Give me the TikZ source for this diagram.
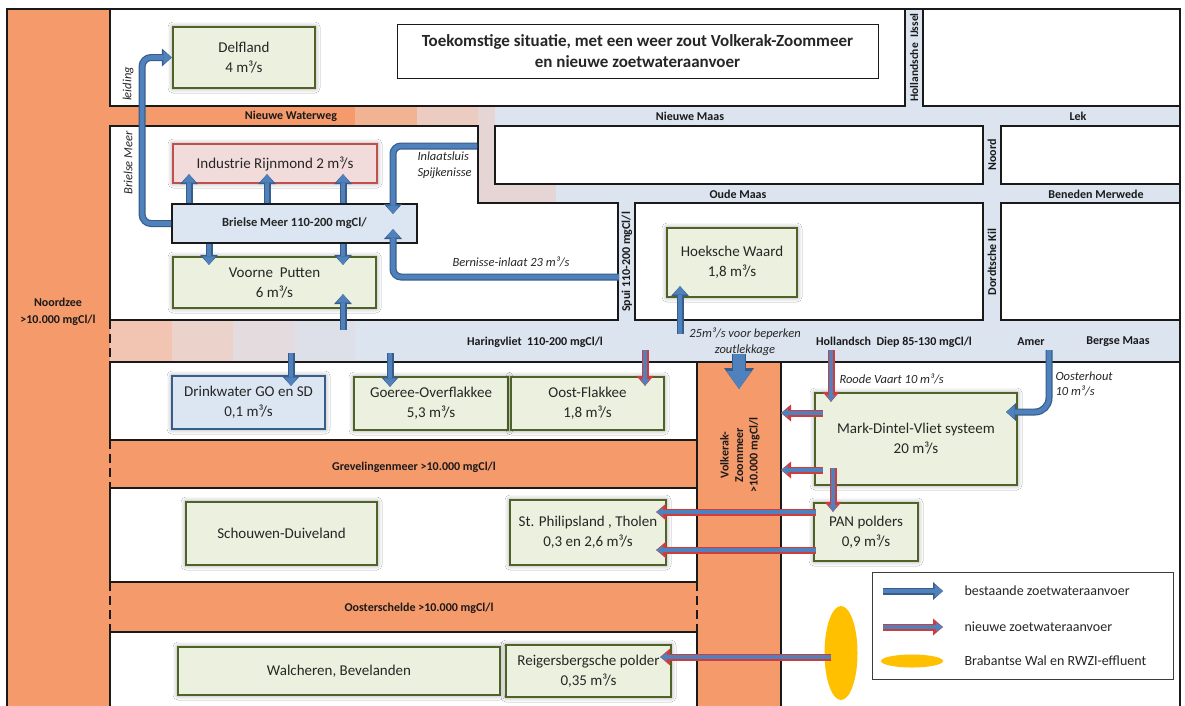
\documentclass[tikz,border=0pt]{standalone}
\usepackage{fontspec}
\setmainfont{Carlito}
\usetikzlibrary{arrows.meta,shapes.geometric,shadows.blur}
\definecolor{Ink}{HTML}{1A1A1A}
\definecolor{Body}{HTML}{262626}
\definecolor{Sea}{HTML}{F59A6B}
\definecolor{Fresh}{HTML}{DBE4EF}
\definecolor{SeaFadeA}{HTML}{F2B393}
\definecolor{SeaFadeB}{HTML}{ECCBC0}
\definecolor{SeaFadeC}{HTML}{E6D5D5}
\definecolor{HvFadeA}{HTML}{F1C5B1}
\definecolor{HvFadeB}{HTML}{EBD3CB}
\definecolor{HvFadeC}{HTML}{E3DBDE}
\definecolor{HvFadeD}{HTML}{DDE0E9}
\definecolor{GreenSoft}{HTML}{EBF1DE}
\definecolor{GreenEdge}{HTML}{4F6228}
\definecolor{RedSoft}{HTML}{F2DCDB}
\definecolor{RedEdge}{HTML}{C0504D}
\definecolor{BlueSoft}{HTML}{DCE6F2}
\definecolor{BlueEdge}{HTML}{385D8A}
\definecolor{FlowBlue}{HTML}{4F81BD}
\definecolor{FlowRed}{HTML}{D23B3B}
\definecolor{Effluent}{HTML}{FFC000}
\newcommand{\fsz}[2]{\fontsize{#1}{#2}\selectfont}

\begin{document}
\begin{tikzpicture}[x=1pt,y=-1pt,every node/.style={text=Body},
  coast/.style={draw=Ink,line width=1.4pt},
  island/.style={coast,fill=white},
  gap/.style={coast,dash pattern=on 9pt off 5pt},
  river/.style={font=\bfseries\fsz{12}{16},text=Ink},
  note/.style={font=\itshape\fsz{12.5}{15.5},text=Body},
  dims/.style 2 args={minimum width=#1pt,minimum height=#2pt},
  area/.style={draw=GreenEdge,fill=GreenSoft,line width=2.2pt,align=center,
    font=\fsz{15}{20},inner sep=1pt,
    blur shadow={shadow xshift=0pt,shadow yshift=0pt,shadow blur radius=5pt,shadow opacity=45}},
  lake/.style={draw=Ink,fill=BlueSoft,line width=1.8pt,font=\bfseries\fsz{12.5}{14}},
  flow/.style={draw=BlueEdge,line width=7pt,-{Triangle[width=18pt,length=10pt,line width=0pt]},
    postaction={draw=FlowBlue,line width=4.6pt,-{Triangle[width=13pt,length=8.5pt,line width=0pt]}}},
  newflow/.style={draw=FlowRed,line width=7pt,-{Triangle[width=17pt,length=10pt,line width=0pt]},
    postaction={draw=FlowBlue,line width=3.4pt,-{Triangle[width=9pt,length=7pt,line width=0pt]}}},
  bigflow/.style={draw=BlueEdge,line width=14pt,-{Triangle[width=30pt,length=21pt,line width=0pt]},
    postaction={draw=FlowBlue,line width=12pt,-{Triangle[width=25pt,length=18pt,line width=0pt]}}}]
  \useasboundingbox (0,0) rectangle (1185,705);
  \fill[white] (0,0) rectangle (1185,705);
  \fill[Fresh] (110,9) rectangle (1180,712);

  \fill[Sea] (110,106) rectangle (355,126);
  \fill[SeaFadeA] (355,106) rectangle (417,126);
  \fill[SeaFadeB] (417,106) rectangle (478,126);
  \fill[SeaFadeC] (478,106) rectangle (495,203);
  \fill[SeaFadeC] (478,184) rectangle (556,203);
  \fill[HvFadeA] (110,320) rectangle (172,362);
  \fill[HvFadeB] (172,320) rectangle (233,362);
  \fill[HvFadeC] (233,320) rectangle (295,362);
  \fill[HvFadeD] (295,320) rectangle (355,362);

  \fill[Sea] (7,9) rectangle (110,712);
  \fill[Sea] (110,440) rectangle (697,488);
  \fill[Sea] (110,582) rectangle (697,632);
  \fill[Sea] (697,362) rectangle (781,712);

  \draw[island] (110,9) rectangle (905,106);
  \draw[island] (923,9) rectangle (1180,106);
  \draw[island] (110,126) -- (478,126) -- (478,203) -- (618,203) -- (618,320) -- (110,320) -- cycle;
  \draw[island] (495,126) rectangle (983,184);
  \draw[island] (1001,126) rectangle (1180,184);
  \draw[island] (635,203) rectangle (983,320);
  \draw[island] (1001,203) rectangle (1180,320);
  \draw[island] (110,362) rectangle (697,440);
  \draw[island] (110,488) rectangle (697,582);
  \draw[island] (110,632) rectangle (697,712);
  \draw[island] (781,362) rectangle (1180,712);
  \draw[coast] (697,362) -- (781,362);
  \draw[coast] (697,440) -- (697,488);
  \draw[gap] (110,320) -- (110,362);
  \draw[gap] (110,440) -- (110,488);
  \draw[gap] (110,582) -- (110,632);
  \draw[gap] (697,582) -- (697,632);
  \draw[coast] (7,9) rectangle (1180,712);

  \node[draw=Ink,line width=1pt,fill=white,dims={481}{54},align=center,font=\bfseries\fsz{17}{21}] (title)
    at (637.5,51) {Toekomstige situatie, met een weer zout Volkerak-Zoommeer\\en nieuwe zoetwateraanvoer};

  \node[river] (nww) at (291,116) {Nieuwe Waterweg};
  \node[river] (nmaas) at (690,116) {Nieuwe Maas};
  \node[river] (lek) at (1078,116) {Lek};
  \node[river] (omaas) at (738,194) {Oude Maas};
  \node[river] (merwede) at (1096,194) {Beneden Merwede};
  \node[river,rotate=90,font=\bfseries\fsz{11.5}{14}] (ijssel) at (914,57.5) {Hollandsche\ \ IJssel};
  \node[river,rotate=90] (noord) at (992,155) {Noord};
  \node[river,rotate=90] (kil) at (992,262) {Dordtsche Kil};
  \node[river,rotate=90] (spui) at (627,262) {Spui 110-200 mgCl/l};
  \node[river] (haring) at (535,342) {Haringvliet\ \ 110-200 mgCl/l};
  \node[river] (hdiep) at (894,342) {Hollandsch\ \ Diep 85-130 mgCl/l};
  \node[river] (amer) at (1031,342) {Amer};
  \node[river] (bmaas) at (1118,342) {Bergse Maas};
  \node[river] (grevel) at (414,467) {Grevelingenmeer >10.000 mgCl/l};
  \node[river] (oschelde) at (419,608) {Oosterschelde >10.000 mgCl/l};
  \node[river,align=center,font=\bfseries\fsz{12}{17}] (noordzee) at (58,311.5) {Noordzee\\>10.000 mgCl/l};
  \node[river,rotate=90,align=center,font=\bfseries\fsz{12}{14.5}] (volkerak) at (740,455) {Volkerak-\\Zoommeer\\>10.000 mgCl/l};

  \node[note,rotate=90] (leiding) at (128,84) {leiding};
  \node[note,rotate=90] (bmside) at (128,163) {Brielse Meer};
  \node[note,anchor=west,align=left] (inlaat) at (414,165) {Inlaatsluis\\Spijkenisse};
  \node[note] (bernisse) at (511,262) {Bernisse-inlaat 23 m³/s};
  \node[note,align=center] (lekkage) at (745,341.5) {25m³/s voor beperken\\zoutlekkage};
  \node[note,anchor=west] (roode) at (836,379) {Roode Vaart 10 m³/s};
  \node[note,anchor=west,align=left] (oosterhout) at (1052,384) {Oosterhout\\10 m³/s};

  \node[area,dims={142}{61}] (delfland) at (244,57.5) {Delfland\\4 m³/s};
  \node[area,draw=RedEdge,fill=RedSoft,dims={204}{39}] (industrie) at (275,163.5) {Industrie Rijnmond 2 m³/s};
  \node[lake,dims={245}{39}] (brielle) at (294.5,223.5) {Brielse Meer 110-200 mgCl/};
  \node[area,dims={203}{51}] (voorne) at (274.5,282.5) {Voorne\ \ Putten\\6 m³/s};
  \node[area,draw=BlueEdge,fill=BlueSoft,dims={153}{53}] (drinkwater) at (248.5,402.5) {Drinkwater GO en SD\\0,1 m³/s};
  \node[area,dims={154}{53}] (goeree) at (431,403.5) {Goeree-Overflakkee\\5,3 m³/s};
  \node[area,dims={153}{53}] (oostfl) at (587.5,403.5) {Oost-Flakkee\\1,8 m³/s};
  \node[area,dims={130}{69}] (hoeksche) at (732,262.5) {Hoeksche Waard\\1,8 m³/s};
  \node[area,dims={202}{92}] (mdv) at (916,439) {Mark-Dintel-Vliet systeem\\20 m³/s};
  \node[area,dims={104}{58}] (pan) at (866,532) {PAN polders\\0,9 m³/s};
  \node[area,dims={156}{65}] (tholen) at (588,532.5) {St. Philipsland , Tholen\\0,3 en 2,6 m³/s};
  \node[area,dims={191}{63}] (schouwen) at (281.5,533.5) {Schouwen-Duiveland};
  \node[area,dims={322}{48}] (walcheren) at (339,671) {Walcheren, Bevelanden};
  \node[area,dims={165}{52}] (reigers) at (588.5,671) {Reigersbergsche polder\\0,35 m³/s};
  \node[ellipse,fill=Effluent,dims={33}{94},inner sep=0pt] (brabant) at (841,653) {};

  \coordinate (hvVoorne) at (343,330);
  \coordinate (hvDrink) at (291,353);
  \coordinate (hvGoeree) at (390,353);
  \coordinate (hvOost) at (645,350);
  \coordinate (hvHoek) at (680,334);
  \coordinate (hvVolk) at (739,354);
  \coordinate (vzTop) at (739,389);
  \coordinate (vzEast) at (781,0);
  \coordinate (hdRoode) at (831,350);
  \coordinate (amerOut) at (1049,350);
  \coordinate (mdvIn) at (1006,412);
  \coordinate (sluis) at (477,146);
  \coordinate (sluisIn) at (393,214);
  \coordinate (spuiOut) at (619,277);
  \coordinate (bernisseIn) at (393,229);

  \draw[flow,rounded corners=9pt] (brielle.west) -- ++(-29,0) |- (delfland.west);
  \foreach \x in {189,267,343}
    \draw[flow,shorten >=-10pt] (\x,0 |- brielle.north) -- (\x,0 |- industrie.south);
  \foreach \x in {209,343}
    \draw[flow,shorten >=-9pt] (\x,0 |- brielle.south) -- (\x,0 |- voorne.north);
  \draw[flow,shorten >=-15pt] (hvVoorne) -- (343,0 |- voorne.south);
  \draw[flow,shorten >=-11pt] (hvDrink) -- (hvDrink |- drinkwater.north);
  \draw[flow,shorten >=-11pt] (hvGoeree) -- (hvGoeree |- goeree.north);
  \draw[flow,rounded corners=8pt] (sluis) -| (sluisIn);
  \draw[flow,rounded corners=8pt] (spuiOut) -| (bernisseIn);
  \draw[flow,shorten >=-12pt] (hvHoek) -- (hvHoek |- hoeksche.south);
  \draw[bigflow] (hvVolk) -- (vzTop);
  \draw[flow,rounded corners=14pt] (amerOut) |- (mdvIn);

  \draw[newflow,shorten >=-10pt] (hvOost) -- (hvOost |- oostfl.north);
  \draw[newflow,shorten >=-10pt] (hdRoode) -- (hdRoode |- mdv.north);
  \foreach \y in {413,470}
    \draw[newflow,shorten <=-9pt] (mdv.west |- 0,\y) -- (vzEast |- 0,\y);
  \draw[newflow,shorten <=-18pt,shorten >=-10pt] (833,0 |- mdv.south) -- (833,0 |- pan.north);
  \foreach \y in {512,550}
    \draw[newflow,shorten <=-3pt,shorten >=-11pt] (pan.west |- 0,\y) -- (tholen.east |- 0,\y);
  \draw[newflow,shorten <=-7pt,shorten >=-12pt] (brabant.west |- 0,657) -- (reigers.east |- 0,657);

  \node[draw=Ink!85,line width=1pt,dims={301}{107}] (legend) at (1022.5,625.5) {};
  \draw[flow] (883,591) -- (943,591);
  \draw[newflow] (883,627) -- (943,627);
  \node[ellipse,fill=Effluent,dims={62}{13},inner sep=0pt] (legdot) at (912,661) {};
  \node[anchor=west,font=\fsz{14}{15}] (leg1) at (961,591) {bestaande zoetwateraanvoer};
  \node[anchor=west,font=\fsz{14}{15}] (leg2) at (961,627) {nieuwe zoetwateraanvoer};
  \node[anchor=west,font=\fsz{14}{15}] (leg3) at (961,661) {Brabantse Wal en RWZI-effluent};
\end{tikzpicture}
\end{document}
